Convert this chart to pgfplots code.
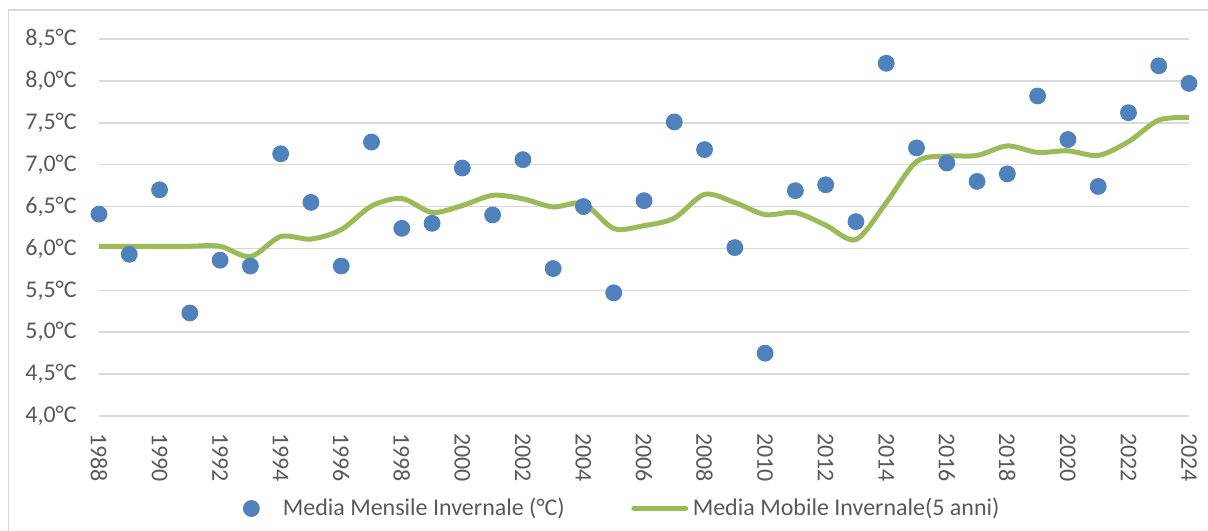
\documentclass[border=0pt]{standalone}
\usepackage{fontspec}
\setmainfont{Carlito}
\usepackage{pgfplots}
\pgfplotsset{compat=1.18}
\definecolor{ptblue}{HTML}{4F81BD}
\definecolor{lgreen}{HTML}{9BBB59}
\definecolor{gridc}{HTML}{D9D9D9}
\definecolor{txt}{HTML}{595959}

\pgfplotstableread{
year val
1988 6.41
1989 5.93
1990 6.70
1991 5.23
1992 5.86
1993 5.79
1994 7.13
1995 6.55
1996 5.79
1997 7.27
1998 6.24
1999 6.30
2000 6.96
2001 6.40
2002 7.06
2003 5.76
2004 6.50
2005 5.47
2006 6.57
2007 7.51
2008 7.18
2009 6.01
2010 4.75
2011 6.69
2012 6.76
2013 6.32
2014 8.21
2015 7.20
2016 7.02
2017 6.80
2018 6.89
2019 7.82
2020 7.30
2021 6.74
2022 7.62
2023 8.18
2024 7.97
}\monthly

\pgfplotstableread{
year val
1988 6.026
1989 6.026
1990 6.026
1991 6.026
1992 6.026
1993 5.902
1994 6.142
1995 6.112
1996 6.224
1997 6.506
1998 6.596
1999 6.430
2000 6.512
2001 6.634
2002 6.592
2003 6.496
2004 6.536
2005 6.238
2006 6.272
2007 6.362
2008 6.646
2009 6.548
2010 6.404
2011 6.428
2012 6.278
2013 6.106
2014 6.546
2015 7.036
2016 7.102
2017 7.110
2018 7.224
2019 7.146
2020 7.166
2021 7.110
2022 7.274
2023 7.532
2024 7.562
}\mobile

\begin{document}
\begin{tikzpicture}
\begin{axis}[
  at={(0pt,0pt)}, anchor=south west,
  scale only axis, width=545pt, height=188.5pt,
  xmin=1988, xmax=2024, ymin=4, ymax=8.5,
  clip=false,
  axis line style={draw=none},
  major tick length=0pt,
  ymajorgrids, grid style={gridc, line width=0.75pt},
  ytick={4,4.5,5,5.5,6,6.5,7,7.5,8,8.5},
  yticklabels={{4,0°C},{4,5°C},{5,0°C},{5,5°C},{6,0°C},{6,5°C},{7,0°C},{7,5°C},{8,0°C},{8,5°C}},
  xtick={1988,1990,1992,1994,1996,1998,2000,2002,2004,2006,2008,2010,2012,2014,2016,2018,2020,2022,2024},
  xticklabels={1988,1990,1992,1994,1996,1998,2000,2002,2004,2006,2008,2010,2012,2014,2016,2018,2020,2022,2024},
  yticklabel style={anchor=east, inner xsep=11pt, inner ysep=0pt, text=txt, font=\fontsize{12pt}{14pt}\selectfont},
  xticklabel style={rotate=-90, anchor=west, inner xsep=8.5pt, inner ysep=0pt, text=txt, font=\fontsize{12pt}{14pt}\selectfont},
  legend columns=2,
  legend style={at={(0.1321,-0.2453)}, anchor=west, draw=none, fill=none,
    inner sep=0pt, outer sep=0pt,
    font=\fontsize{12pt}{14pt}\selectfont, text=txt,
    nodes={inner sep=0pt},
    /tikz/every even column/.append style={column sep=32pt}},
]
\addplot[only marks, mark=*, mark size=4pt, mark options={draw=ptblue, fill=ptblue},
  legend image code/.code={\fill[ptblue] (0pt,0pt) circle (4pt); \path (15.5pt,0pt);}]
  table[x=year, y=val] {\monthly};
\addlegendentry{Media Mensile Invernale (°C)}
\addplot[lgreen, line width=2.5pt, smooth, no marks,
  legend image code/.code={\draw[lgreen, line width=2.5pt, line cap=round] (1.25pt,0pt) -- (27.25pt,0pt); \path (0pt,0pt) (29.5pt,0pt);}]
  table[x=year, y=val] {\mobile};
\addlegendentry{Media Mobile Invernale(5 anni)}
\end{axis}
\draw[gridc, line width=0.75pt] (-45.35pt,-60pt) -- (-45.35pt,203pt) -- (560pt,203pt);
\pgfresetboundingbox
\path[use as bounding box] (-49.5pt,-57pt) rectangle (554.5pt,208pt);
\end{tikzpicture}
\end{document}
